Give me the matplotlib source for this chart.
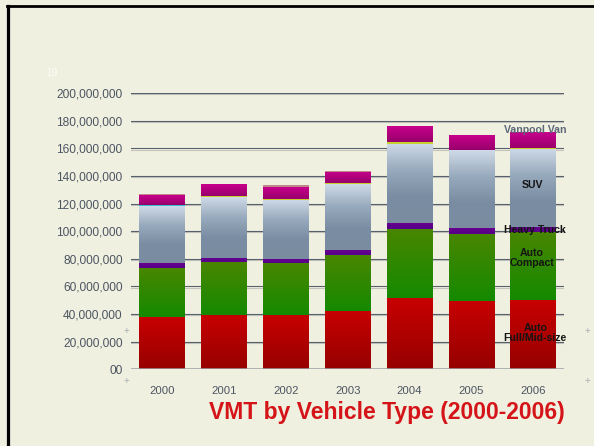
import numpy as np
import matplotlib
matplotlib.use("Agg")
import matplotlib.pyplot as plt
import matplotlib.patheffects as pe
from matplotlib.colors import LinearSegmentedColormap
from matplotlib.lines import Line2D

plt.rcParams['font.family'] = ['Liberation Sans', 'DejaVu Sans']

# VMT by vehicle type, millions of miles
years = ['2000', '2001', '2002', '2003', '2004', '2005', '2006']
auto_full = [37.6, 39.6, 39.0, 42.5, 51.7, 49.6, 50.2]
auto_compact = [36.0, 38.1, 38.0, 40.3, 50.0, 48.6, 49.3]
heavy_truck = [3.4, 2.9, 2.9, 3.6, 4.3, 4.2, 3.5]
suv = [41.2, 43.9, 43.1, 47.6, 57.3, 56.1, 56.8]
other_cyan = [0.5, 0.0, 0.0, 0.0, 0.0, 0.0, 0.0]
other_yellow = [0.6, 0.7, 0.7, 0.6, 1.2, 0.6, 0.3]
vanpool_van = [7.2, 8.6, 8.0, 8.4, 11.1, 10.7, 11.0]
other_brown = [0.7, 0.0, 1.4, 0.7, 0.0, 0.0, 0.0]

yticks = [0, 20, 40, 60, 80, 100, 120, 140, 160, 180, 200]
ytick_labels = ['00', '20,000,000', '40,000,000', '60,000,000', '80,000,000',
                '100,000,000', '120,000,000', '140,000,000', '160,000,000',
                '180,000,000', '200,000,000']

# (values, gradient stops top -> bottom)
series = [
    (auto_full, ['#c80000', '#960000']),
    (auto_compact, ['#4a8600', '#148a00']),
    (heavy_truck, ['#66008e', '#560088']),
    (suv, ['#cfdae7', '#98aabd', '#7a8da2', '#7a8ca0']),
    (other_cyan, ['#30c0d0', '#30c0d0']),
    (other_yellow, ['#c8d030', '#c8d030']),
    (vanpool_van, ['#c8008c', '#98006c']),
    (other_brown, ['#c08888', '#c08888']),
]

bg = '#f0f0e0'
fig = plt.figure(figsize=(5.94, 4.46), dpi=100, facecolor=bg)
ax = fig.add_axes([0.2205, 0.172, 0.7295, 0.619])
ax.set_facecolor(bg)

x = np.arange(len(years))
bottom = np.zeros(len(years))
grad = np.linspace(0, 1, 128).reshape(-1, 1)
for vals, stops in series:
    vals = np.array(vals)
    bars = ax.bar(x, vals, width=0.74, bottom=bottom, color='none',
                  linewidth=0, zorder=3)
    cmap = LinearSegmentedColormap.from_list('g', stops)
    for p in bars.patches:
        if p.get_height() <= 0:
            continue
        x0, y0 = p.get_x(), p.get_y()
        ax.imshow(grad, cmap=cmap, aspect='auto', interpolation='bilinear',
                  extent=[x0, x0 + p.get_width(), y0, y0 + p.get_height()],
                  zorder=3)
    bottom += vals

ax.set_xlim(-0.5, len(years) - 0.5)
ax.set_ylim(0, 200)

# gridlines with a light shadow
for t in yticks[1:]:
    ax.axhline(t, color='#56616d', lw=0.8, zorder=1,
               path_effects=[pe.SimpleLineShadow(offset=(0, -0.8), shadow_color='#c4c4bc', alpha=1),
                             pe.Normal()])
ax.axhline(0, color='#9aa0a6', lw=1.8, zorder=4)

for s in ax.spines.values():
    s.set_visible(False)
ax.set_yticks(yticks)
ax.set_yticklabels(ytick_labels)
ax.set_xticks(x)
ax.set_xticklabels(years)
ax.tick_params(axis='y', length=0, pad=6, labelsize=8.6, labelcolor='#4c5562')
ax.tick_params(axis='x', length=0, pad=12, labelsize=8.2, labelcolor='#4c5562')

# segment labels on the last bar
lab = dict(ha='center', va='center', fontsize=7.6, fontweight='bold',
           color='#141414', zorder=6, linespacing=1.05)
ax.text(6.03, 173.6, 'Vanpool Van', **{**lab, 'color': '#5c6878'})
ax.text(5.98, 133.6, 'SUV', **lab)
ax.text(6.03, 100.7, 'Heavy Truck', **lab)
ax.text(5.98, 80.7, 'Auto\nCompact', **lab)
ax.text(6.03, 26.3, 'Auto\nFull/Mid-size', **lab)

fig.text(0.652, 0.074, 'VMT by Vehicle Type (2000-2006)', ha='center', va='center',
         fontsize=16.5, fontweight='bold', color='#d41418')

# faint slide number and corner marks
fig.text(0.076, 0.83, '19', color='#ffffff', fontsize=8, alpha=0.8)
for fx, fy in [(126, 331), (126, 381), (587, 331), (587, 381)]:
    fig.text(fx / 594, 1 - fy / 446, '+', color='#a8b0b8', fontsize=7,
             ha='center', va='center')

# slide border (left and top)
fig.add_artist(Line2D([7.5 / 594, 7.5 / 594], [0, 1 - 6 / 446], color='black',
                      lw=2.3, transform=fig.transFigure))
fig.add_artist(Line2D([6.5 / 594, 1], [1 - 6 / 446, 1 - 6 / 446], color='black',
                      lw=2.0, transform=fig.transFigure))

fig.savefig('out.png', dpi=100, facecolor=bg)
